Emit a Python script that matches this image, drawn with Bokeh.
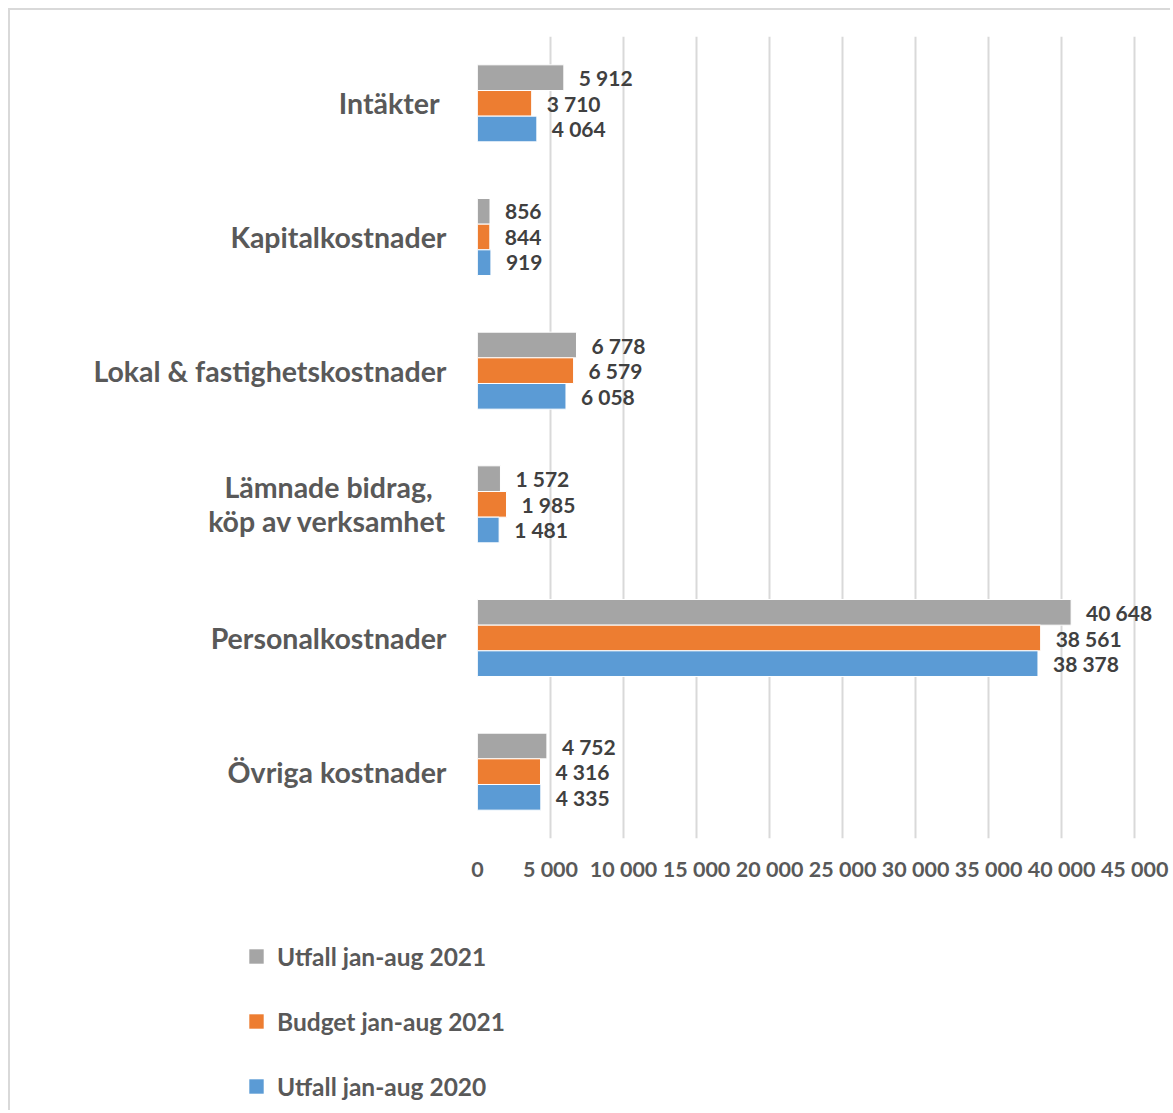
from bokeh.plotting import figure
from bokeh.layouts import column
from bokeh.models import ColumnDataSource, FixedTicker, Legend, LegendItem
from bokeh.transform import dodge
from bokeh.core.properties import value
from bokeh.embed import file_html
from bokeh.resources import INLINE

categories = ["Intäkter ", "Kapitalkostnader", "Lokal & fastighetskostnader",
              "Lämnade bidrag,  \nköp av verksamhet", "Personalkostnader", "Övriga kostnader"]
utfall_2021 = [5912, 856, 6778, 1572, 40648, 4752]
budget_2021 = [3710, 844, 6579, 1985, 38561, 4316]
utfall_2020 = [4064, 919, 6058, 1481, 38378, 4335]
series_names = ["Utfall jan-aug 2021", "Budget jan-aug 2021", "Utfall jan-aug 2020"]
series_colors = ["#a5a5a5", "#ed7d31", "#5b9bd5"]
x_ticks = [0, 5000, 10000, 15000, 20000, 25000, 30000, 35000, 40000, 45000]
x_tick_labels = ["0", "5 000", "10 000", "15 000", "20 000", "25 000", "30 000", "35 000", "40 000", "45 000"]

def fmt(v):
    return f"{v:,}".replace(",", " ")

source = ColumnDataSource(data=dict(
    cat=categories,
    u21=utfall_2021, b21=budget_2021, u20=utfall_2020,
    u21_l=[fmt(v) for v in utfall_2021],
    b21_l=[fmt(v) for v in budget_2021],
    u20_l=[fmt(v) for v in utfall_2020],
))

FONT = "Lato"
p = figure(width=1160, height=900, y_range=list(reversed(categories)), x_range=(0, 46700),
           output_backend="svg", toolbar_location=None,
           min_border_left=467, min_border_right=11, min_border_top=26, min_border_bottom=72)
p.frame_align = False
p.outline_line_color = None
p.background_fill_color = "white"
p.border_fill_color = "white"

bh = 0.192
offsets = [bh, 0.0, -bh]
cols = ["u21", "b21", "u20"]
for col, off, color in zip(cols, offsets, series_colors):
    p.hbar(y=dodge("cat", off, range=p.y_range), right=col, left=0, height=bh,
           source=source, fill_color=color, line_color="white", line_width=1)
    p.text(x=col, y=dodge("cat", off, range=p.y_range), text=col + "_l", source=source,
           x_offset=15, text_baseline="middle", text_align="left",
           text_font=value(FONT), text_font_style="bold", text_font_size="21px",
           text_color="#404040")

p.xaxis.ticker = FixedTicker(ticks=x_ticks)
p.xaxis.major_label_overrides = {t: l for t, l in zip(x_ticks, x_tick_labels)}
p.xaxis.axis_line_color = None
p.xaxis.major_tick_line_color = None
p.xaxis.major_tick_out = 0
p.xaxis.major_tick_in = 0
p.xaxis.minor_tick_line_color = None
p.xaxis.major_label_text_font = FONT
p.xaxis.major_label_text_font_style = "bold"
p.xaxis.major_label_text_font_size = "21.5px"
p.xaxis.major_label_text_color = "#595959"
p.xaxis.major_label_standoff = 17

p.yaxis.axis_line_color = None
p.yaxis.major_tick_line_color = None
p.yaxis.major_tick_out = 0
p.yaxis.major_tick_in = 0
p.yaxis.minor_tick_line_color = None
p.yaxis.major_label_text_font = FONT
p.yaxis.major_label_text_font_style = "bold"
p.yaxis.major_label_text_font_size = "28.5px"
p.yaxis.major_label_text_color = "#595959"
p.yaxis.major_label_standoff = 31
p.yaxis.major_label_text_line_height = 1.0

p.ygrid.grid_line_color = None
p.xgrid.grid_line_color = "#d9d9d9"
p.xgrid.grid_line_width = 2

# Legend panel
p2 = figure(width=1160, height=200, x_range=(0, 1), y_range=(0, 1),
            output_backend="svg", toolbar_location=None,
            min_border_left=0, min_border_right=0, min_border_top=0, min_border_bottom=0)
p2.frame_align = False
p2.axis.visible = False
p2.grid.grid_line_color = None
p2.outline_line_color = None
# placeholder bars outside the visible range, only so the legend can draw its swatches
placeholder = ColumnDataSource(data=dict(y=[-5], right=[-5]))
leg_renderers = [p2.hbar(y="y", right="right", height=0.1, source=placeholder,
                         fill_color=c, line_color=None)
                 for c in series_colors]
legend = Legend(items=[LegendItem(label=n, renderers=[r]) for n, r in zip(series_names, leg_renderers)],
                location=(237, 9), orientation="vertical",
                glyph_width=18, glyph_height=18, label_height=30, spacing=35,
                padding=0, margin=0, border_line_color=None, background_fill_alpha=0,
                label_text_font=FONT, label_text_font_style="bold", label_text_font_size="24.5px",
                label_text_color="#595959", label_standoff=12)
p2.add_layout(legend, "center")

root = column(p, p2, spacing=0, margin=(8, 0, 0, 8),
              styles={"border-left": "2px solid #d9d9d9", "border-top": "2px solid #d9d9d9"})

open("out.html", "w").write(file_html(root, INLINE))
